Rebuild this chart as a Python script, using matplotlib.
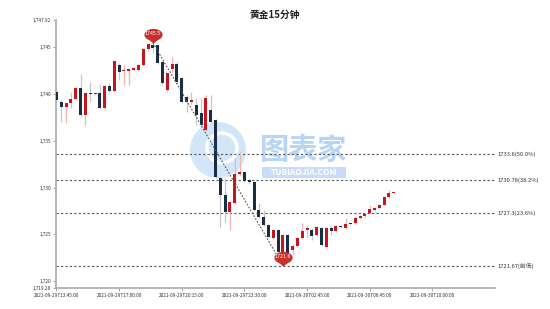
import numpy as np
import matplotlib
matplotlib.use("Agg")
import matplotlib.pyplot as plt
from matplotlib.path import Path
from matplotlib.patches import Circle, Rectangle

plt.rcParams['font.family'] = ['Noto Sans CJK SC', 'DejaVu Sans']

# 15 minute candles (index on a category axis)
opens = [1740.23, 1739.16, 1738.62, 1739.05, 1739.48, 1740.65, 1737.77, 1740.10, 1740.00, 1740.10,
         1738.50, 1740.90, 1740.30, 1743.10, 1742.50, 1742.50, 1742.60, 1742.60, 1743.10, 1744.80,
         1745.30, 1745.20, 1743.40, 1740.44, 1742.70, 1743.20, 1741.70, 1739.70, 1739.20, 1738.80,
         1737.98, 1736.17, 1738.30, 1737.20, 1731.00, 1729.20, 1727.40, 1728.40, 1731.50, 1731.70,
         1730.80, 1730.60, 1727.60, 1726.90, 1726.00, 1724.60, 1725.50, 1722.90, 1724.90, 1723.30,
         1723.80, 1724.60, 1725.50, 1725.50, 1724.90, 1725.70, 1723.70, 1725.70, 1725.40, 1725.90,
         1725.70, 1726.15, 1726.20, 1726.80, 1727.00, 1727.30, 1727.60, 1727.80, 1728.20, 1729.00,
         1729.40]
closes = [1739.37, 1738.62, 1739.05, 1739.48, 1740.65, 1737.77, 1740.10, 1740.00, 1740.10, 1738.50,
          1740.90, 1740.30, 1743.50, 1742.40, 1742.60, 1742.70, 1742.75, 1743.10, 1744.80, 1745.40,
          1744.90, 1743.30, 1741.20, 1742.26, 1743.20, 1741.30, 1739.20, 1739.15, 1739.40, 1737.80,
          1736.70, 1739.60, 1737.00, 1731.15, 1729.20, 1727.40, 1728.50, 1731.50, 1731.70, 1730.70,
          1730.60, 1727.60, 1726.90, 1726.00, 1724.70, 1725.50, 1723.10, 1724.90, 1723.00, 1723.80,
          1724.60, 1725.40, 1725.70, 1724.80, 1725.80, 1723.90, 1725.70, 1725.40, 1725.90, 1725.75,
          1726.10, 1726.10, 1726.80, 1727.00, 1727.20, 1727.70, 1727.80, 1728.20, 1729.00, 1729.40,
          1729.50]
highs = [1740.44, 1739.37, 1739.05, 1740.20, 1740.75, 1742.15, 1740.10, 1741.30, 1740.20, 1741.10,
         1741.00, 1741.20, 1743.60, 1743.30, 1743.10, 1742.80, 1742.90, 1743.20, 1744.90, 1745.45,
         1745.50, 1745.30, 1743.50, 1742.30, 1743.96, 1743.40, 1741.80, 1739.90, 1740.20, 1739.60,
         1739.60, 1739.90, 1739.90, 1737.30, 1731.10, 1731.00, 1728.60, 1733.20, 1733.80, 1731.80,
         1730.90, 1730.70, 1728.40, 1727.60, 1726.10, 1725.60, 1725.60, 1725.00, 1725.00, 1724.00,
         1724.70, 1726.20, 1726.00, 1725.70, 1725.90, 1725.80, 1725.80, 1726.00, 1726.00, 1726.00,
         1726.80, 1726.20, 1726.90, 1727.10, 1727.30, 1728.10, 1727.90, 1728.30, 1729.10, 1729.80,
         1729.50]
lows = [1739.16, 1737.02, 1736.90, 1738.50, 1739.48, 1737.55, 1736.70, 1739.15, 1739.90, 1738.40,
        1738.30, 1740.10, 1740.20, 1741.50, 1741.00, 1741.00, 1742.50, 1742.50, 1743.00, 1744.60,
        1744.40, 1743.20, 1740.90, 1740.20, 1742.40, 1741.10, 1739.00, 1738.10, 1738.90, 1736.70,
        1736.60, 1736.10, 1736.90, 1731.00, 1725.80, 1726.30, 1725.50, 1728.30, 1731.40, 1730.60,
        1730.40, 1727.50, 1726.80, 1725.90, 1724.60, 1724.50, 1722.90, 1721.67, 1722.80, 1722.90,
        1723.70, 1724.50, 1724.60, 1724.40, 1724.80, 1723.80, 1723.60, 1724.90, 1725.30, 1725.70,
        1725.60, 1726.00, 1726.10, 1726.70, 1726.90, 1727.20, 1727.50, 1727.70, 1728.10, 1728.90,
        1729.40]

tick_labels = ["2021-09-29T13:45:00", "2021-09-29T17:00:00", "2021-09-29T20:15:00",
               "2021-09-29T23:30:00", "2021-09-30T02:45:00", "2021-09-30T06:45:00",
               "2021-09-30T10:00:00"]
tick_pos = [0, 13, 26, 39, 52, 65, 78]

y_ticks = [1719.28, 1720, 1725, 1730, 1735, 1740, 1745, 1747.92]
y_tick_labels = ["1,719.28", "1,720", "1,725", "1,730", "1,735", "1,740", "1,745", "1,747.92"]

fib_values = [1733.6, 1730.78, 1727.3, 1721.67]
fib_labels = ["1733.6(50.0%)", "1730.78(38.2%)", "1727.3(23.6%)", "1721.67(前低)"]

high_idx, high_val = 20, 1745.5
low_idx, low_val = 47, 1721.67

up_body, up_wick = '#c4161c', '#eeb4b4'
dn_body, dn_wick = '#1b2d44', '#c3c8cf'

fig = plt.figure(figsize=(5.5, 3.09), dpi=100)
ax = fig.add_axes([56 / 550, 21 / 309, 439 / 550, 268 / 309])
ax.set_zorder(2)

# watermark (logo circle + name), kept under the axes
fig.patches.append(Circle((2.18, 3.09 - 1.50), 0.28, transform=fig.dpi_scale_trans,
                          facecolor='#d3e5f9', edgecolor='none', zorder=-2))
fig.patches.append(Circle((2.22, 3.09 - 1.48), 0.15, transform=fig.dpi_scale_trans,
                          facecolor='none', edgecolor='white', lw=2.5, zorder=-1))
fig.patches.append(Rectangle((262 / 550, 1 - 178 / 309), 84 / 550, 11 / 309,
                             transform=fig.transFigure, facecolor='#c8def8',
                             edgecolor='none', zorder=-2))
fig.text(304 / 550, 1 - 150 / 309, "图表家", fontsize=21, color='#b8d5f6',
         ha='center', va='center', fontweight='bold', zorder=-1)
fig.text(304 / 550, 1 - 172.5 / 309, "TUBIAOJIA.COM", fontsize=6, color='white',
         ha='center', va='center', fontweight='bold', zorder=-1)

x = np.arange(len(opens))
for i in x:
    o, c, h, l = opens[i], closes[i], highs[i], lows[i]
    up = c >= o
    ax.vlines(i, l, h, color=up_wick if up else dn_wick, lw=0.9, zorder=2)
    bottom = min(o, c)
    height = max(abs(c - o), 0.12)
    ax.bar(i, height, bottom=bottom, width=0.62, color=up_body if up else dn_body,
           linewidth=0, zorder=3)

# fibonacci levels
for v, lab in zip(fib_values, fib_labels):
    ax.axhline(v, color='#555555', lw=0.8, ls=(0, (2, 2)), zorder=1)
    ax.text(1.005, v, lab, transform=ax.get_yaxis_transform(), fontsize=4.2,
            color='#333333', va='center', ha='left')

# swing line high -> low
ax.plot([high_idx, low_idx], [high_val, low_val], color='#555555', lw=0.8,
        ls=(0, (1.5, 1.5)), zorder=4)

# pin markers
t = np.linspace(np.radians(-60), np.radians(240), 40)
verts = np.column_stack([np.cos(t), 0.95 + 0.65 * np.sin(t)])
verts = np.vstack([verts, [[0, 0]], verts[:1]])
codes = [Path.MOVETO] + [Path.LINETO] * (len(verts) - 2) + [Path.CLOSEPOLY]
pin = Path(verts, codes)
for px, pv, txt in [(high_idx, high_val, "1745.5"), (low_idx, low_val, "1721.6")]:
    ax.scatter([px], [pv], marker=pin, s=21 ** 2, color='#c9302c', zorder=6,
               linewidths=0)
    ax.annotate(txt, (px, pv), xytext=(0, 6.5), textcoords='offset points',
                fontsize=3.8, color='white', ha='center', va='center', zorder=7)

ax.set_xlim(-0.1, 91)
ax.set_ylim(y_ticks[0], y_ticks[-1])
ax.set_xticks(tick_pos)
ax.set_xticklabels(tick_labels, fontsize=3.4, color='#333333')
ax.set_yticks(y_ticks)
ax.set_yticklabels(y_tick_labels, fontsize=3.4, color='#333333')
ax.tick_params(axis='both', length=2, width=0.6, color='#999999', pad=1.5)
for s in ['top', 'right']:
    ax.spines[s].set_visible(False)
for s in ['left', 'bottom']:
    ax.spines[s].set_color('#aaaaaa')
    ax.spines[s].set_linewidth(1.2)
ax.patch.set_alpha(0)

fig.text(0.5, 1 - 15 / 309, "黄金15分钟", fontsize=7, ha='center', va='center',
         color='#222222', fontweight='bold')

fig.savefig("out.png", dpi=100)
